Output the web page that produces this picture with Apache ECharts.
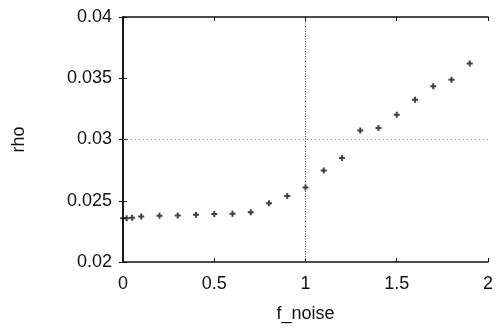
<!DOCTYPE html>
<html>
<head>
<meta charset="utf-8">
<script src="https://cdn.jsdelivr.net/npm/echarts@6/dist/echarts.min.js"></script>
<style>html,body{margin:0;padding:0;background:#fff}#c{width:496px;height:328px}</style>
</head>
<body>
<div id="c"></div>
<script>
var fNoise = [0, 0.02, 0.05, 0.1, 0.2, 0.3, 0.4, 0.5, 0.6, 0.7, 0.8, 0.9, 1.0, 1.1, 1.2, 1.3, 1.4, 1.5, 1.6, 1.7, 1.8, 1.9];
var rho = [0.02357, 0.02358, 0.02362, 0.02372, 0.02378, 0.0238, 0.02386, 0.02391, 0.02394, 0.02407, 0.0248, 0.02538, 0.02609, 0.02746, 0.02848, 0.03073, 0.03094, 0.03202, 0.03325, 0.03435, 0.03488, 0.0362];
var xTicks = [0, 0.5, 1, 1.5, 2];
var yTicks = [0.02, 0.025, 0.03, 0.035, 0.04];
var refX = 1;
var refY = 0.03;

var chart = echarts.init(document.getElementById('c'), null, {renderer: 'canvas'});
var font = 'Liberation Sans, Arial, sans-serif';
var ink = '#111';
var axisLineStyle = {color: ink, width: 1.6};
var pts = fNoise.map(function (x, i) { return [x, rho[i]]; });
function fmtY(v) { return yTicks.indexOf(+v.toFixed(3)) >= 0 ? String(+v.toFixed(3)) : ''; }
chart.setOption({
  animation: false,
  grid: {left: 123, right: 7, top: 17, bottom: 57},
  xAxis: [{
    type: 'value', min: 0, max: 2, interval: 0.5, position: 'bottom',
    name: 'f_noise', nameLocation: 'middle', nameGap: 43,
    nameTextStyle: {fontFamily: font, fontSize: 18, color: ink},
    axisLine: {show: true, lineStyle: axisLineStyle},
    axisTick: {show: true, inside: true, length: 4, lineStyle: {color: ink}},
    axisLabel: {fontFamily: font, fontSize: 18, color: ink, margin: 13,
      formatter: function (v) { return String(+v.toFixed(2)); }},
    splitLine: {show: false}
  }, {
    type: 'value', min: 0, max: 2, interval: 0.5, position: 'top',
    axisLine: {show: true, lineStyle: axisLineStyle},
    axisTick: {show: true, inside: true, length: 4, lineStyle: {color: ink}},
    axisLabel: {show: false}, splitLine: {show: false}
  }],
  yAxis: [{
    type: 'value', min: 0.02, max: 0.04, interval: 0.005, position: 'left',
    name: 'rho', nameLocation: 'middle', nameGap: 95, nameRotate: 90,
    nameTextStyle: {fontFamily: font, fontSize: 18, color: ink},
    axisLine: {show: true, lineStyle: axisLineStyle},
    axisTick: {show: true, inside: true, length: 4, lineStyle: {color: ink}},
    axisLabel: {fontFamily: font, fontSize: 18, color: ink, margin: 11, formatter: fmtY},
    splitLine: {show: false}
  }, {
    type: 'value', min: 0.02, max: 0.04, interval: 0.005, position: 'right',
    axisLine: {show: true, lineStyle: axisLineStyle},
    axisTick: {show: true, inside: true, length: 4, lineStyle: {color: ink}},
    axisLabel: {show: false}, splitLine: {show: false}
  }],
  series: [{
    type: 'scatter',
    xAxisIndex: 0, yAxisIndex: 0,
    data: pts,
    symbol: 'path://M2,0 L4,0 L4,2 L6,2 L6,4 L4,4 L4,6 L2,6 L2,4 L0,4 L0,2 L2,2 Z',
    symbolSize: 6,
    itemStyle: {color: '#111'},
    markLine: {
      silent: true, symbol: 'none', label: {show: false}, animation: false,
      data: [
        {xAxis: refX, lineStyle: {color: '#444', type: [1, 1.5], width: 1}},
        {yAxis: refY, lineStyle: {color: '#888', type: [1, 3], width: 1}}
      ]
    }
  }]
});
</script>
</body>
</html>
